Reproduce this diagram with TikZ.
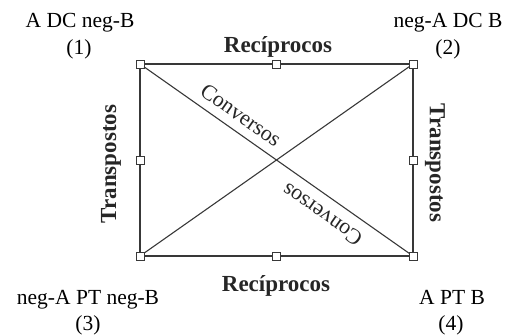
\documentclass[tikz,border=0pt]{standalone}
\usepackage{fontspec}
\setmainfont{Liberation Serif}
\begin{document}
\begin{tikzpicture}[x=1pt,y=-1pt,
  edge/.style={draw=black!78, line width=1.1pt},
  handle/.style={draw=black!78, fill=white, line width=0.9pt, minimum size=8pt, inner sep=0pt, outer sep=0pt, rectangle},
  cornerlbl/.style={font=\fontsize{21.5}{26}\selectfont, text=black, inner sep=0pt, anchor=base},
  relbl/.style={font=\fontsize{23}{27}\selectfont\bfseries, text=black!85, inner sep=0pt},
  convlbl/.style={font=\fontsize{22}{26}\selectfont, text=black!85, inner sep=0pt}
]
\useasboundingbox (0,0) rectangle (510,335);
% handles
\node[handle] (c1) at (140,64) {};
\node[handle] (c2) at (413,64) {};
\node[handle] (c3) at (140,256) {};
\node[handle] (c4) at (413,256) {};
\node[handle] (m12) at (276.5,64) {};
\node[handle] (m34) at (276.5,256) {};
\node[handle] (m13) at (140,160) {};
\node[handle] (m24) at (413,160) {};
% edges
\draw[edge] (c1) -- (m12);
\draw[edge] (m12) -- (c2);
\draw[edge] (c3) -- (m34);
\draw[edge] (m34) -- (c4);
\draw[edge] (c1) -- (m13);
\draw[edge] (m13) -- (c3);
\draw[edge] (c2) -- (m24);
\draw[edge] (m24) -- (c4);
\draw[edge] (c1) -- (c4);
\draw[edge] (c2) -- (c3);
% corner labels
\node[cornerlbl] (l1) at (80,27) {A DC neg-B};
\node[cornerlbl] (n1) at (79,54) {(1)};
\node[cornerlbl] (l2) at (448,27) {neg-A DC B};
\node[cornerlbl] (n2) at (448,54) {(2)};
\node[cornerlbl] (l3) at (88,304) {neg-A PT neg-B};
\node[cornerlbl] (n3) at (88,330) {(3)};
\node[cornerlbl] (l4) at (452,304) {A PT B};
\node[cornerlbl] (n4) at (451,330) {(4)};
% relation labels
\node[relbl, anchor=base] (rtop) at (278,52) {Recíprocos};
\node[relbl, anchor=base] (rbot) at (276,291) {Recíprocos};
\node[relbl, rotate=90] (tleft) at (111,164) {Transpostos};
\node[relbl, rotate=-90] (tright) at (435,163) {Transpostos};
\node[convlbl, rotate=-35.1] (cv1) at (241,115) {Conversos};
\node[convlbl, rotate=144.9] (cv2) at (322,215) {Conversos};
\end{tikzpicture}
\end{document}
